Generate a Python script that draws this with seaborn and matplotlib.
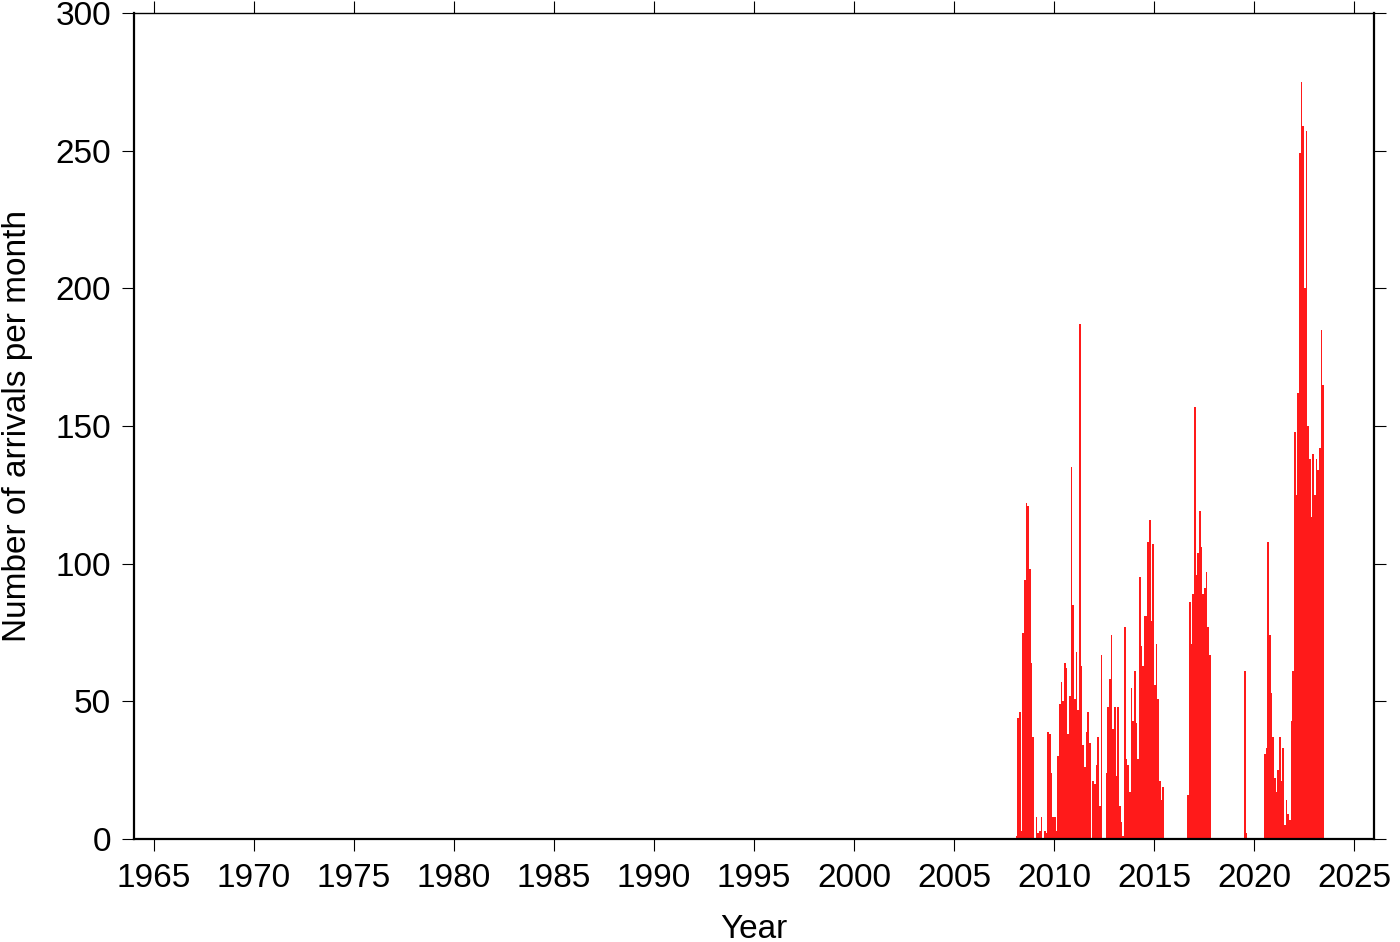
import pandas as pd
import matplotlib
matplotlib.use("Agg")
import matplotlib.pyplot as plt
import seaborn as sns

# monthly arrival counts, Jan..Dec
arrivals_2008 = [0, 1, 44, 46, 3, 75, 94, 122, 121, 98, 64, 37]
arrivals_2009 = [0, 8, 2, 3, 8, 0, 3, 2, 39, 38, 24, 8]
arrivals_2010 = [8, 3, 30, 49, 57, 50, 64, 62, 38, 52, 135, 85]
arrivals_2011 = [51, 68, 47, 187, 63, 34, 26, 39, 46, 35, 0, 21]
arrivals_2012 = [20, 27, 37, 12, 67, 0, 0, 24, 48, 58, 74, 40]
arrivals_2013 = [48, 23, 48, 12, 6, 1, 77, 29, 27, 17, 55, 43]
arrivals_2014 = [61, 42, 29, 95, 70, 63, 81, 81, 108, 116, 79, 107]
arrivals_2015 = [56, 71, 51, 21, 14, 19, 0, 0, 0, 0, 0, 0]
arrivals_2016 = [0, 0, 0, 0, 0, 0, 0, 0, 16, 86, 71, 89]
arrivals_2017 = [157, 96, 104, 119, 106, 89, 91, 97, 77, 67, 0, 0]
arrivals_2018 = [0, 0, 0, 0, 0, 0, 0, 0, 0, 0, 0, 0]
arrivals_2019 = [0, 0, 0, 0, 0, 0, 61, 2, 0, 0, 0, 0]
arrivals_2020 = [0, 0, 0, 0, 0, 0, 31, 33, 108, 74, 53, 37]
arrivals_2021 = [22, 17, 25, 37, 21, 33, 5, 14, 9, 7, 43, 61]
arrivals_2022 = [148, 125, 162, 249, 275, 259, 200, 257, 150, 138, 117, 140]
arrivals_2023 = [125, 138, 134, 142, 185, 165]

years = list(range(2008, 2024))
per_year = [arrivals_2008, arrivals_2009, arrivals_2010, arrivals_2011,
            arrivals_2012, arrivals_2013, arrivals_2014, arrivals_2015,
            arrivals_2016, arrivals_2017, arrivals_2018, arrivals_2019,
            arrivals_2020, arrivals_2021, arrivals_2022, arrivals_2023]

# decimal year at the middle of each month
rows = []
for yr, vals in zip(years, per_year):
    for m, c in enumerate(vals):
        rows.append({'year': yr + (m + 0.5) / 12, 'count': c})
df = pd.DataFrame(rows)

sns.set_style("ticks")
plt.rcParams['font.family'] = ['Liberation Sans', 'DejaVu Sans']
plt.rcParams['text.color'] = 'black'
plt.rcParams['axes.labelcolor'] = 'black'

fig = plt.figure(figsize=(14, 9.42), dpi=100)
ax = fig.add_axes([134 / 1400, 103 / 942, 1240 / 1400, 826 / 942])

sns.histplot(data=df, x='year', weights='count', binwidth=1 / 12,
             binrange=(2008, 2024), shrink=0.88,
             color='#ff1a1a', alpha=1, linewidth=0, ax=ax)

ax.set_xlim(1964, 2026)
ax.set_ylim(0, 300)
ax.set_xticks(range(1965, 2030, 5))
ax.set_yticks(range(0, 301, 50))

for side in ['left', 'bottom', 'right']:
    ax.spines[side].set_linewidth(1.6)
ax.spines['top'].set_linewidth(1.0)
for side in ['left', 'bottom', 'right', 'top']:
    ax.spines[side].set_visible(True)
    ax.spines[side].set_color('black')

ax.tick_params(axis='both', direction='out', length=8.5, width=0.8,
               labelsize=24, top=True, right=True, pad=8,
               colors='black', labelcolor='black')
ax.tick_params(axis='x', pad=9)

ax.set_xlabel('Year', fontsize=24, labelpad=14, color='black')
ax.set_ylabel('Number of arrivals per month', fontsize=24, labelpad=16,
              color='black')

plt.savefig('out.png', dpi=100)
